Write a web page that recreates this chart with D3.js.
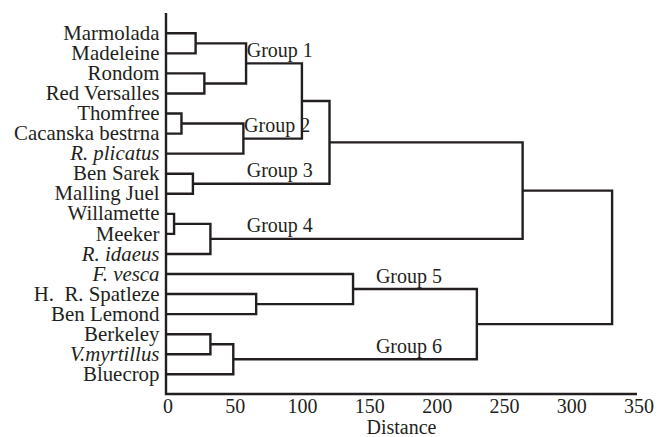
<!DOCTYPE html>
<html>
<head>
<meta charset="utf-8">
<script src="https://cdn.jsdelivr.net/npm/d3@7"></script>
<style>
body { margin: 0; background: #fff; }
text { font-family: "Liberation Serif", "Times New Roman", serif; fill: #231f20; }
</style>
</head>
<body>
<svg id="chart"></svg>
<script>
var leaves = ["Marmolada", "Madeleine", "Rondom", "Red Versalles", "Thomfree",
              "Cacanska bestrna", "R. plicatus", "Ben Sarek", "Malling Juel",
              "Willamette", "Meeker", "R. idaeus", "F. vesca", "H.  R. Spatleze",
              "Ben Lemond", "Berkeley", "V.myrtillus", "Bluecrop"];
var italicLeaves = ["R. plicatus", "R. idaeus", "F. vesca", "V.myrtillus"];

// linkage: [child a, child b, distance]; leaves are 0..17, merges get ids from 18 on
var merges = [[0, 1, 22], [2, 3, 28.5], [18, 19, 59.5], [4, 5, 11.5], [21, 6, 57.5],
              [20, 22, 101], [7, 8, 20], [23, 24, 121.5], [9, 10, 6], [26, 11, 33],
              [25, 27, 265], [13, 14, 67], [12, 29, 139], [15, 16, 33], [31, 17, 50],
              [30, 32, 231], [28, 33, 331.5]];

var groupNames = ["Group 1", "Group 2", "Group 3", "Group 4", "Group 5", "Group 6"];
var groupNodes = [20, 22, 24, 27, 30, 32];
var groupLabelAt = [60, 58, 60, 60, 156, 156];

var ticks = [0, 50, 100, 150, 200, 250, 300, 350];

var width = 659, height = 437;
var svg = d3.select("#chart").attr("width", width).attr("height", height);

var x = d3.scaleLinear().domain([0, 350]).range([166, 637]);
var y = d3.scalePoint().domain(d3.range(leaves.length)).range([33.3, 374.3]);

// node positions
var nodeY = [], nodeH = [];
leaves.forEach(function(d, i) { nodeY[i] = y(i); nodeH[i] = 0; });
merges.forEach(function(m, i) {
    var id = leaves.length + i;
    nodeY[id] = (nodeY[m[0]] + nodeY[m[1]]) / 2;
    nodeH[id] = m[2];
});

var ink = "#231f20";

svg.selectAll(".link")
    .data(merges)
    .enter().append("path")
    .attr("class", "link")
    .attr("fill", "none")
    .attr("stroke", ink)
    .attr("stroke-width", 2.4)
    .attr("stroke-linejoin", "miter")
    .attr("d", function(m) {
        var a = m[0], b = m[1];
        return "M" + x(nodeH[a]) + "," + nodeY[a] +
               "H" + x(m[2]) + "V" + nodeY[b] + "H" + x(nodeH[b]);
    });

// axes frame
svg.append("path")
    .attr("fill", "none")
    .attr("stroke", ink)
    .attr("stroke-width", 2.4)
    .attr("d", "M" + x(0) + ",13V394H" + x(350));

// leaf names, a bit wider than plain 20px like the original typesetting
svg.selectAll(".leaf")
    .data(leaves)
    .enter().append("text")
    .attr("class", "leaf")
    .attr("transform", function(d, i) { return "translate(159.5," + y(i) + ") scale(1.045,1)"; })
    .attr("dy", "0.33em")
    .attr("text-anchor", "end")
    .style("font-size", "20px")
    .style("white-space", "pre")
    .style("font-style", function(d) { return italicLeaves.indexOf(d) >= 0 ? "italic" : "normal"; })
    .text(function(d) { return d; });

svg.selectAll(".group")
    .data(groupNames)
    .enter().append("text")
    .attr("class", "group")
    .attr("x", function(d, i) { return x(groupLabelAt[i]); })
    .attr("y", function(d, i) { return nodeY[groupNodes[i]] - 6.5; })
    .style("font-size", "20px")
    .text(function(d) { return d; });

svg.selectAll(".tick")
    .data(ticks)
    .enter().append("text")
    .attr("class", "tick")
    .attr("x", function(d) { return x(d) + 2; })
    .attr("y", 413)
    .attr("text-anchor", "middle")
    .style("font-size", "20px")
    .text(function(d) { return d; });

svg.append("text")
    .attr("x", (x(0) + x(350)) / 2)
    .attr("y", 434)
    .attr("text-anchor", "middle")
    .style("font-size", "20px")
    .text("Distance");
</script>
</body>
</html>
